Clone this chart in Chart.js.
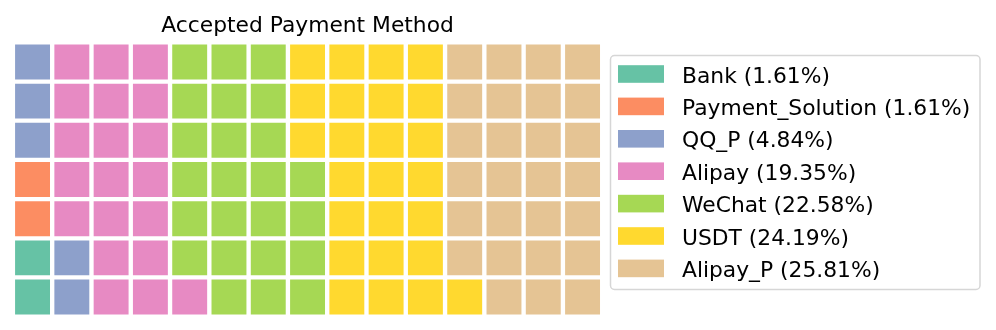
<!DOCTYPE html>
<html>
<head>
<meta charset="utf-8">
<script src="https://cdn.jsdelivr.net/npm/chart.js@4.4.1/dist/chart.umd.min.js"></script>
<style>
  html, body { margin: 0; padding: 0; background: #fff; }
  #wrap { width: 996px; height: 330px; }
</style>
</head>
<body>
<div id="wrap"><canvas id="waffle" width="996" height="330"></canvas></div>
<script>
// Waffle chart: Accepted Payment Method

const categories = ["Bank", "Payment_Solution", "QQ_P", "Alipay", "WeChat", "USDT", "Alipay_P"];
const percents = [1.61, 1.61, 4.84, 19.35, 22.58, 24.19, 25.81];
const cellCounts = [2, 2, 5, 20, 24, 25, 27];
const colors = ["#66c2a5", "#fc8d62", "#8da0cb", "#e78ac3", "#a6d854", "#ffd92f", "#e5c494"];
const gridRows = 7;
const gridCols = 15;
const titleText = "Accepted Payment Method";

const FONT = "DejaVu Sans, Verdana, sans-serif";

// cells are filled column by column, bottom to top
function buildDatasets() {
  let k = 0;
  return categories.map((name, i) => {
    const pts = [];
    for (let n = 0; n < cellCounts[i]; n++, k++) {
      pts.push({ x: Math.floor(k / gridRows), y: k % gridRows });
    }
    return {
      label: name + " (" + percents[i].toFixed(2) + "%)",
      data: pts,
      backgroundColor: colors[i],
      borderColor: colors[i],
      pointStyle: "rect",
      pointRadius: 24.7,
      pointHoverRadius: 24.7,
      pointBorderWidth: 0
    };
  });
}

// title + boxed legend on the right
const decorPlugin = {
  id: "decor",
  afterDraw(chart) {
    const ctx = chart.ctx;
    const area = chart.chartArea;
    ctx.save();

    ctx.fillStyle = "#000";
    ctx.font = "21.8px " + FONT;
    ctx.textAlign = "center";
    ctx.textBaseline = "alphabetic";
    ctx.fillText(titleText, (area.left + area.right) / 2, 32);

    const lx = 610.5, ly = 55.5, lw = 369.5, lh = 234;
    ctx.beginPath();
    ctx.roundRect(lx, ly, lw, lh, 4);
    ctx.fillStyle = "rgba(255,255,255,0.8)";
    ctx.fill();
    ctx.strokeStyle = "#d6d6d6";
    ctx.lineWidth = 1.5;
    ctx.stroke();

    ctx.textAlign = "left";
    chart.data.datasets.forEach((ds, i) => {
      const cy = 74 + i * 32.4;
      ctx.fillStyle = ds.backgroundColor;
      ctx.fillRect(618, cy - 8.8, 46, 17.6);
      ctx.fillStyle = "#000";
      ctx.fillText(ds.label, 682, cy + 8.5);
    });
    ctx.restore();
  }
};

new Chart(document.getElementById("waffle").getContext("2d"), {
  type: "scatter",
  data: { datasets: buildDatasets() },
  options: {
    responsive: false,
    animation: false,
    layout: {
      autoPadding: false,
      padding: { left: 12.9, right: 393.8, top: 42.4, bottom: 13.4 }
    },
    plugins: {
      legend: { display: false },
      title: { display: false },
      tooltip: { enabled: false }
    },
    scales: {
      x: { type: "linear", display: false, min: -0.5, max: gridCols - 0.5 },
      y: { type: "linear", display: false, min: -0.5, max: gridRows - 0.5 }
    }
  },
  plugins: [decorPlugin]
});
</script>
</body>
</html>
